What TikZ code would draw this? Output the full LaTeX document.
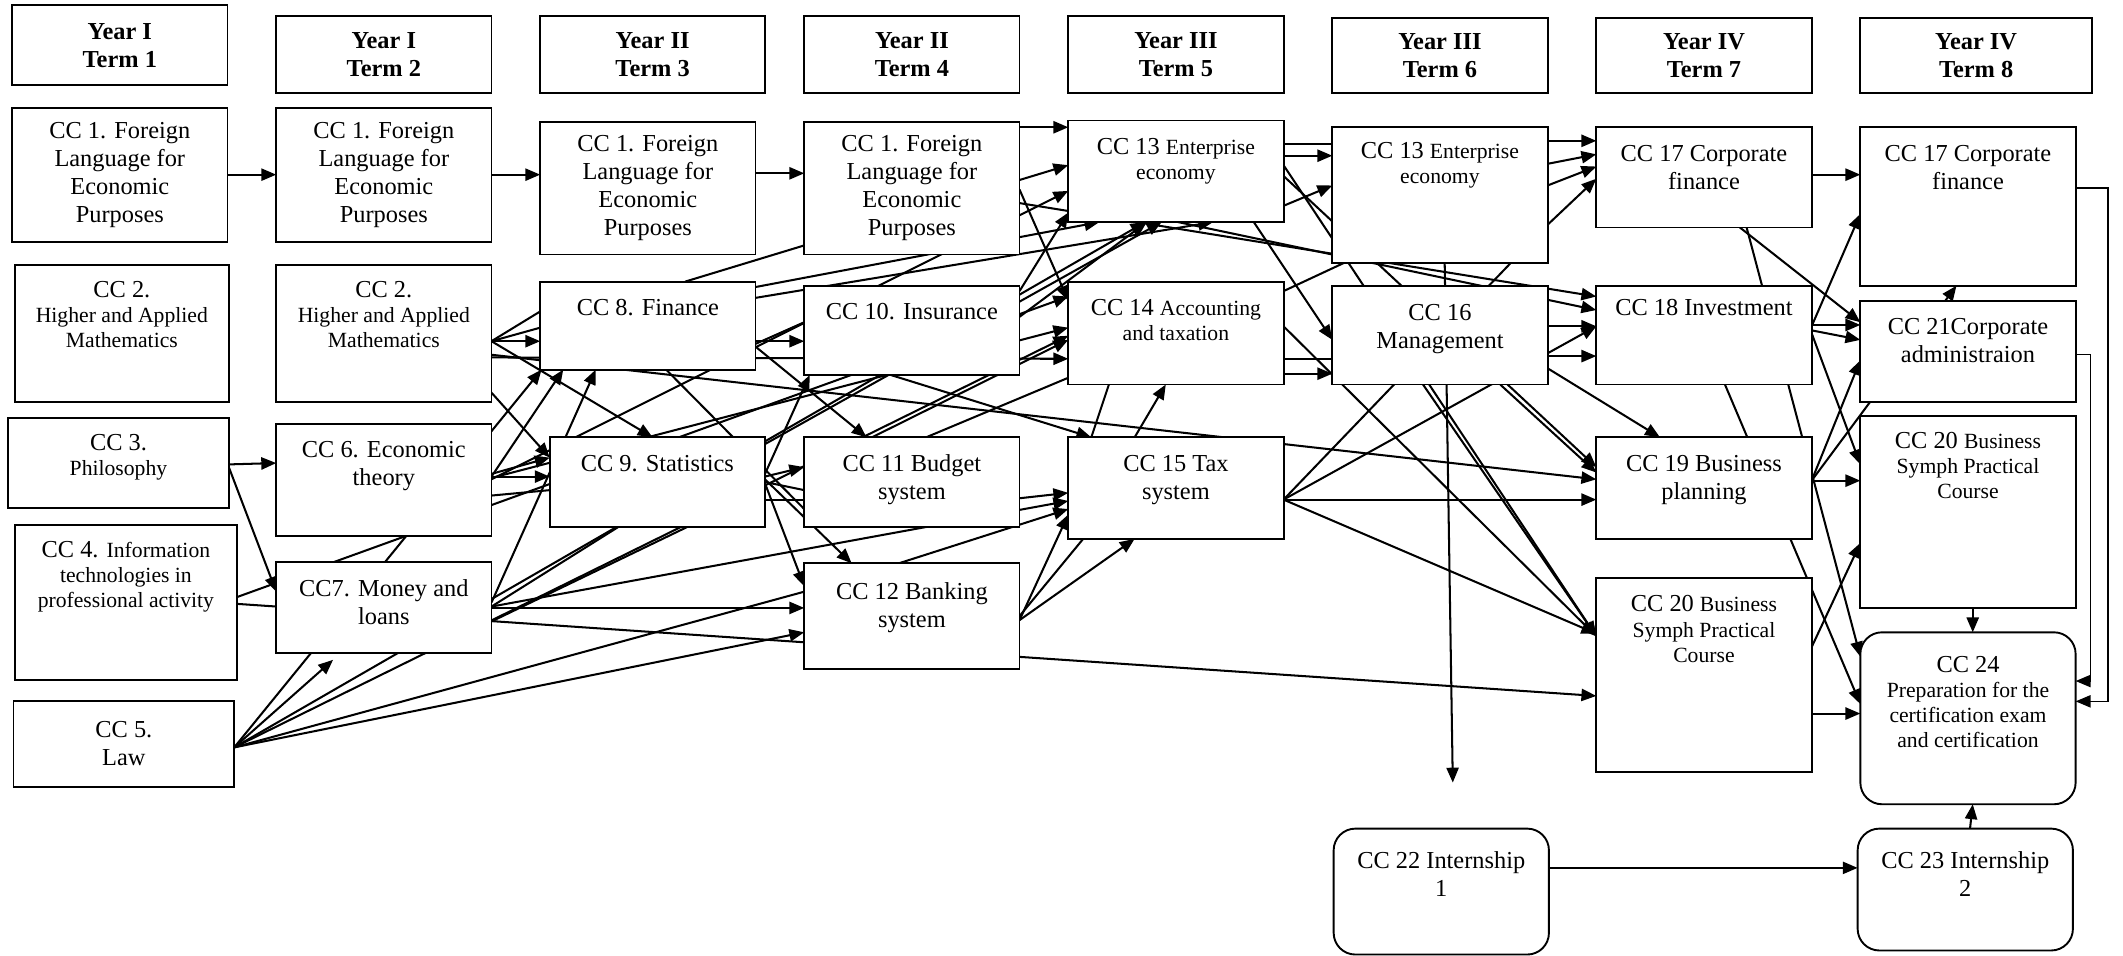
\documentclass[tikz,border=0pt]{standalone}
\usepackage{fontspec}
\setmainfont{Liberation Serif}
\usetikzlibrary{arrows.meta,calc}
\pgfdeclarelayer{bg}
\pgfsetlayers{bg,main}
\newcommand\bfs{\fontsize{18}{20.7}\selectfont}
\newcommand\sms{\fontsize{16}{18.5}\selectfont}
\newcommand\boxt[8][]{\node[bx,#1] (#2) at (#3,#4) {\parbox[c][\dimexpr#6pt-#4pt\relax][t]{\dimexpr#5pt-#3pt\relax}{\centering\bfs\vspace*{#7pt}#8\par}};}
\newcommand\boxc[7][]{\node[bx,#1] (#2) at (#3,#4) {\parbox[c][\dimexpr#6pt-#4pt\relax][c]{\dimexpr#5pt-#3pt\relax}{\centering\bfs #7\par}};}
\tikzset{
  bx/.style={draw, line width=1.4pt, fill=white, inner sep=0pt, outer sep=0pt, anchor=north west},
  rbx/.style={rounded corners=16pt},
  ln/.style={line width=1.5pt},
  ar/.style={ln, -{Triangle[length=11pt,width=9pt]}},
  br/.style={line width=1.1pt, -{Triangle[length=11pt,width=9pt]}}
}
\begin{document}
\begin{tikzpicture}[x=1pt,y=-1pt]
\useasboundingbox (0,0) rectangle (1568,706);
% headers
\boxc{h1}{9}{4}{168}{63}{\bfseries Year I\\Term 1}
\boxc{h2}{204}{12}{363}{69}{\bfseries Year I\\Term 2}
\boxc{h3}{399}{12}{565}{69}{\bfseries Year II\\Term 3}
\boxc{h4}{594}{12}{753}{69}{\bfseries Year II\\Term 4}
\boxc{h5}{789}{12}{948}{69}{\bfseries Year III\\Term 5}
\boxc{h6}{984}{13}{1143}{69}{\bfseries Year III\\Term 6}
\boxc{h7}{1179}{13}{1338}{69}{\bfseries Year IV\\Term 7}
\boxc{h8}{1374}{13}{1545}{69}{\bfseries Year IV\\Term 8}
% column 1
\boxc{a1}{9}{80}{168}{179}{CC 1. Foreign\\Language for\\Economic\\Purposes}
\boxt{a2}{11}{196}{169}{297}{12}{CC 2.\par{\sms Higher and Applied\\Mathematics\par}}
\boxt{a3}{6}{309}{169}{375}{12}{CC 3.\par{\sms Philosophy\par}}
\boxt{a4}{11}{388}{175}{502}{12}{CC 4. {\sms Information\\technologies in\\professional activity\par}}
\boxc{a5}{10}{518}{173}{581}{CC 5.\\Law}
% column 2
\boxc{b1}{204}{80}{363}{179}{CC 1. Foreign\\Language for\\Economic\\Purposes}
\boxt{b2}{204}{196}{363}{297}{12}{CC 2.\par{\sms Higher and Applied\\Mathematics\par}}
\boxt{b6}{204}{313}{363}{396}{13}{CC 6. Economic\\theory}
\boxt{b7}{204}{415}{363}{482}{13}{CC7. Money and\\loans}
% column 3
\boxc{c1}{399}{90}{558}{188}{CC 1. Foreign\\Language for\\Economic\\Purposes}
\boxt{c8}{399}{208}{558}{273}{13}{CC 8. Finance}
\boxt{c9}{406}{323}{565}{389}{13}{CC 9. Statistics}
% column 4
\boxc{d1}{594}{90}{753}{188}{CC 1. Foreign\\Language for\\Economic\\Purposes}
\boxt{d10}{594}{211}{753}{277}{13}{CC 10. Insurance}
\boxt{d11}{594}{323}{753}{389}{13}{CC 11 Budget\\system}
\boxt{d12}{594}{416}{753}{494}{14}{CC 12 Banking\\system}
% column 5
\boxt{e13}{789}{89}{948}{164}{13}{CC 13 {\sms Enterprise\\economy\par}}
\boxt{e14}{789}{208}{948}{284}{13}{CC 14 {\sms Accounting\\and taxation\par}}
\boxt{e15}{789}{323}{948}{398}{13}{CC 15 Tax\\system}
% column 6
\boxt{f13}{984}{94}{1143}{194}{11}{CC 13 {\sms Enterprise\\economy\par}}
\boxt{f16}{984}{211}{1143}{284}{14}{CC 16\\Management}
\boxt[rbx]{f22}{985}{612}{1144}{705}{17}{CC 22 Internship\\1}
% column 7
\boxt{g17}{1179}{94}{1338}{168}{13}{CC 17 Corporate\\finance}
\boxt{g18}{1179}{211}{1338}{284}{10}{CC 18 Investment}
\boxt{g19}{1179}{323}{1338}{398}{13}{CC 19 Business\\planning}
\boxt{g20}{1179}{427}{1338}{570}{13}{CC 20 {\sms Business\\Symph Practical\\Course\par}}
% column 8
\boxt{h17}{1374}{94}{1533}{211}{13}{CC 17 Corporate\\finance}
\boxt{h21}{1374}{222}{1533}{297}{13}{CC 21Corporate\\administraion}
\boxt{h20}{1374}{307}{1533}{449}{12}{CC 20 {\sms Business\\Symph Practical\\Course\par}}
\boxt[rbx]{h24}{1374}{467}{1533}{594}{18}{CC 24\par{\sms Preparation for the\\certification exam\\and certification\par}}
\boxt[rbx]{h23}{1372}{612}{1531}{702}{17}{CC 23 Internship\\2}
\coordinate (fe) at (1073,578);
\coordinate (br1) at (1557,300);
\coordinate (br2) at (1544,400);
\begin{pgfonlayer}{bg}
% col1 -> col2
\draw[ar] (a1.east |- 0,129) -- (b1.west |- 0,129);
\draw[ar] (b1.east |- 0,129) -- (c1.west |- 0,129);
\draw[ar] (c1.east |- 0,128) -- (d1.west |- 0,128);
\draw[ar] (d1.east |- 0,94) -- (e13.west |- 0,94);
\draw[ar] (a3.east |- 0,343) -- (b6.west |- 0,342);
\draw[ar] (a3.east |- 0,345) -- (b7.west |- 0,437);
\draw[ar] (a4.east |- 0,441) -- (e14.west |- 0,219);
\draw[ar] (a4.east |- 0,446) -- (g20.west |- 0,514);
\draw[ar] (a5.east |- 0,552) -- (c8.south -| 400,0);
\draw[ar,shorten >=8pt] (a5.east |- 0,552) -- (b7.south -| 252,0);
\draw[ar] (a5.east |- 0,552) -- (e13.south -| 846,0);
\draw[ar] (a5.east |- 0,552) -- (e14.west |- 0,248);
\draw[ln] (a5.east |- 0,552) -- (d12.west |- 0,437);
\draw[ar] (a5.east |- 0,552) -- (d12.west |- 0,467);
% CC7
\draw[ar] (b7.east |- 0,445) -- (c8.south -| 440,0);
\draw[ar] (b7.east |- 0,448) -- (e15.west |- 0,370);
\draw[ar] (b7.east |- 0,449) -- (d12.west |- 0,449);
\draw[ln] (b7.east |- 0,448) -- (c9.south -| 457,0);
\draw[ln] (b7.east |- 0,459) -- (c9.south -| 508,0);
% CC6
\draw[ar] (b6.east |- 0,352) -- (c9.west |- 0,352);
\draw[ar] (b6.east |- 0,350) -- (c9.west |- 0,338);
\draw[ln] (b6.east |- 0,366) -- (c9.west |- 0,362);
\draw[ar] (b6.east |- 0,352) -- (c8.south -| 416,0);
\draw[ar] (b6.east |- 0,354) -- (e13.west |- 0,141);
\draw[ar] (b6.east |- 0,353) -- (e14.west |- 0,242);
% CC2
\draw[ln] (b2.east |- 0,252) -- (c8.west |- 0,230);
\draw[ln] (b2.east |- 0,252) -- (c8.west |- 0,242);
\draw[ar] (b2.east |- 0,252) -- (c8.west |- 0,252);
\draw[ar] (b2.east |- 0,252) -- (c9.north -| 482,0);
\draw[ar] (b2.east |- 0,290) -- (c9.west |- 0,338);
\draw[ar] (b2.east |- 0,264) -- (e14.west |- 0,265);
\draw[ar] (b2.east |- 0,262) -- (g19.west |- 0,354);
% CC8
\draw[ar] (c8.east |- 0,252) -- (d10.west |- 0,252);
\draw[ln] (c8.east |- 0,254) -- (d10.west |- 0,238);
\draw[ar] (c8.east |- 0,256) -- (d11.north -| 640,0);
\draw[ar] (c8.east |- 0,212) -- (e13.south -| 812,0);
\draw[ar] (c8.east |- 0,220) -- (e13.south -| 896,0);
\draw[ar] (c8.north -| 506,0) -- (e13.west |- 0,122);
\draw[ln] (c8.south -| 492,0) -- (d11.west |- 0,376);
% CC9
\draw[ar] (c9.east |- 0,352) -- (d11.west |- 0,345);
\draw[ln] (c9.east |- 0,356) -- (d11.west |- 0,362);
\draw[ln] (c9.east |- 0,369) -- (d11.west |- 0,369);
\draw[ar] (c9.east |- 0,354) -- (d12.north -| 629,0);
\draw[ar] (c9.east |- 0,357) -- (d12.west |- 0,433);
\draw[ar] (c9.east |- 0,350) -- (d10.south -| 598,0);
\draw[ar] (c9.east |- 0,328) -- (e13.south -| 858,0);
% CC10
\draw[ar] (d10.east |- 0,215) -- (e13.west |- 0,157);
\draw[ar] (d10.east |- 0,234) -- (e13.south -| 847,0);
\draw[ar] (d10.south -| 658,0) -- (e15.north -| 806,0);
% CC11
\draw[ar] (d11.north -| 644,0) -- (e14.west |- 0,251);
\draw[ln] (d11.north -| 684,0) -- (e14.west |- 0,279);
\draw[ar] (d11.east |- 0,368) -- (e15.west |- 0,364);
% CC12
\draw[ar] (d12.east |- 0,458) -- (e15.west |- 0,380);
\draw[ar] (d12.east |- 0,458) -- (e15.south -| 838,0);
\draw[ln] (d12.east |- 0,455) -- (e15.south -| 800,0);
\draw[ar] (d12.north -| 664,0) -- (e15.west |- 0,376);
% CC1 term 4
\draw[ar] (d1.east |- 0,140) -- (e14.west |- 0,222);
\draw[ar] (d1.east |- 0,150) -- (g18.west |- 0,219);
% CC13 term 5
\draw[ln] (e13.east |- 0,106) -- (f13.west |- 0,106);
\draw[ar] (e13.east |- 0,115) -- (f13.west |- 0,115);
\draw[ar] (e13.east |- 0,152) -- (f13.west |- 0,137);
\draw[ar] (e13.east |- 0,122) -- (g20.west |- 0,470);
\draw[ar] (e13.east |- 0,130) -- (g19.west |- 0,345);
\draw[ar] (e13.south -| 926,0) -- (f16.west |- 0,251);
\draw[ar] (e13.south -| 870,0) -- (g18.west |- 0,229);
% CC13 term 6
\draw[ar] (f13.east |- 0,104) -- (g17.west |- 0,104);
\draw[ar] (f13.east |- 0,121) -- (g17.west |- 0,114);
\draw[ar] (f13.east |- 0,137) -- (g17.west |- 0,123);
\draw[ar] (f13.east |- 0,166) -- (g17.west |- 0,132);
\draw[ar] (f13.south -| 1067,0) -- (fe);
% CC14
\draw[ln] (e14.east |- 0,265) -- (f16.west |- 0,265);
\draw[ar] (e14.east |- 0,276) -- (f16.west |- 0,276);
\draw[ln] (e14.east |- 0,215) -- (f13.south -| 993,0);
\draw[ar] (e14.east |- 0,241) -- (g20.west |- 0,470);
\draw[ln] (e14.south -| 819,0) -- (e15.north -| 806,0);
% CC15
\draw[ar] (e15.north -| 838,0) -- (e14.south -| 861,0);
\draw[ar] (e15.east |- 0,369) -- (g19.west |- 0,369);
\draw[ar] (e15.east |- 0,369) -- (g20.west |- 0,468);
\draw[ln] (e15.east |- 0,369) -- (f13.south -| 1116,0);
\draw[ar] (e15.east |- 0,369) -- (g18.west |- 0,241);
% CC16
\draw[ar] (f16.east |- 0,241) -- (g18.west |- 0,241);
\draw[ar] (f16.east |- 0,263) -- (g18.west |- 0,263);
\draw[ar] (f16.east |- 0,272) -- (g19.north -| 1226,0);
\draw[ar] (f16.south -| 1108,0) -- (g19.west |- 0,349);
\draw[ar] (f16.south -| 1051,0) -- (g20.west |- 0,470);
% CC17 term 7
\draw[ar] (g17.east |- 0,129) -- (h17.west |- 0,129);
\draw[ar] (g17.south -| 1285,0) -- (h21.west |- 0,238);
\draw[ar] (g17.south -| 1290,0) -- (h24.west |- 0,485);
% CC18
\draw[ar] (g18.east |- 0,240) -- (h21.west |- 0,240);
\draw[ar] (g18.east |- 0,244) -- (h21.west |- 0,251);
\draw[ar] (g18.east |- 0,241) -- (h17.west |- 0,158);
\draw[ar] (g18.east |- 0,246) -- (h20.west |- 0,343);
\draw[ar] (g18.south -| 1274,0) -- (h24.west |- 0,520);
% CC19
\draw[ar] (g19.east |- 0,355) -- (h21.west |- 0,266);
\draw[ar] (g19.east |- 0,355) -- (h17.south -| 1445,0);
\draw[ar] (g19.east |- 0,355) -- (h20.west |- 0,355);
% CC20 term 7
\draw[ar] (g20.east |- 0,478) -- (h20.west |- 0,401);
\draw[ar] (g20.east |- 0,527) -- (h24.west |- 0,527);
% final column
\draw[ar] (h20.south -| 1457,0) -- (h24.north -| 1457,0);
\draw[ar] (h23.north -| 1455,0) -- (h24.south -| 1457,0);
\draw[ar] (f22.east |- 0,641) -- (h23.west |- 0,641);
\draw[br] (h17.east |- 0,139) -| (br1) |- (h24.east |- 0,518);
\draw[br] (h21.east |- 0,262) -| (br2) |- (h24.east |- 0,503);
\end{pgfonlayer}
\end{tikzpicture}
\end{document}
